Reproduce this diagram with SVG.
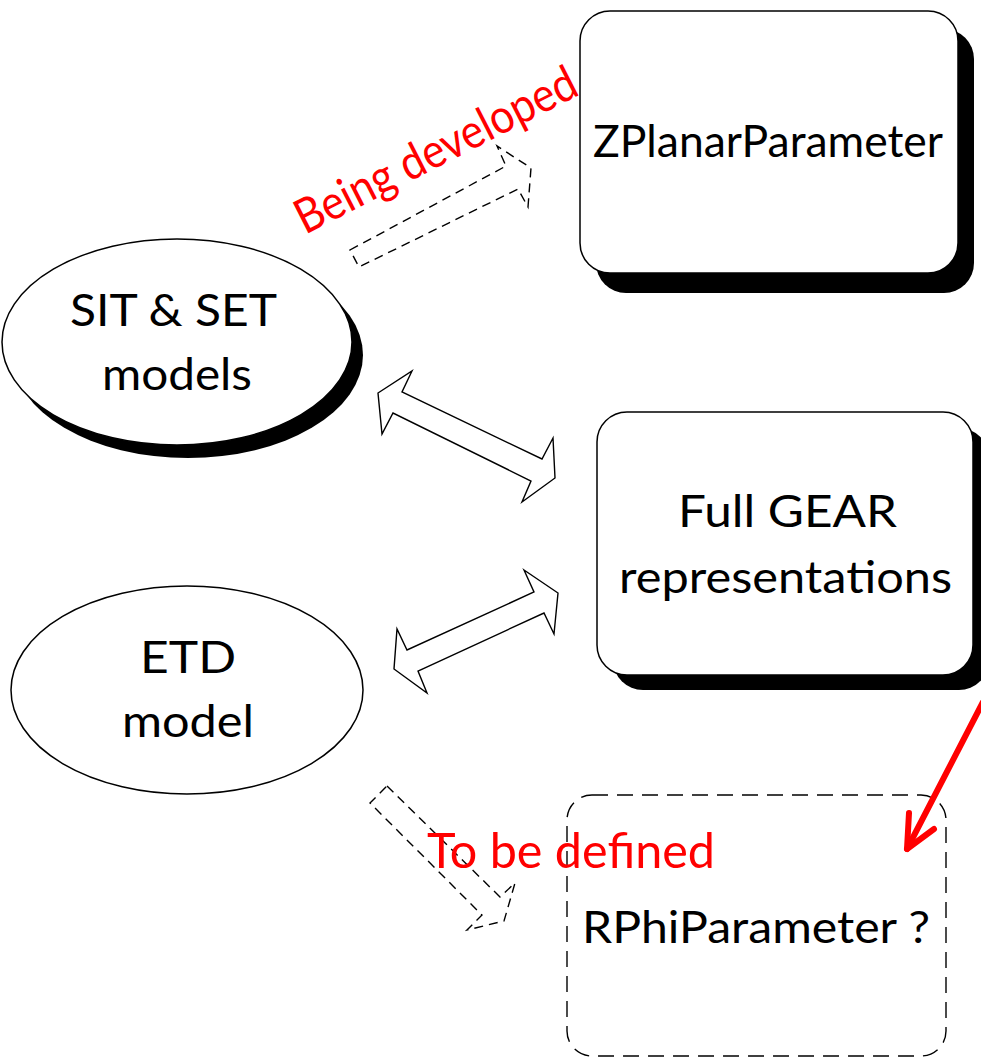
<svg xmlns="http://www.w3.org/2000/svg" width="981" height="1058" viewBox="0 0 981 1058">
<style>
.lbl{font-family:"Lato","Open Sans","Liberation Sans",sans-serif;font-size:45px;fill:#000;text-anchor:middle}
.red{font-family:"Lato","Open Sans","Liberation Sans",sans-serif;font-size:48px;fill:#ff0000}
.node{fill:#fff;stroke:#000;stroke-width:1.5}
.shadow{fill:#000;stroke:none}
.blk{fill:#fff;stroke:#000;stroke-width:1.4;stroke-linejoin:miter}
.dash{fill:none;stroke:#000;stroke-width:1.4;stroke-dasharray:9 6}
</style>
<rect width="981" height="1058" fill="#fff"/>
<g id="zplanar">
<rect class="shadow" x="596" y="29" width="378" height="264" rx="30"/>
<rect class="node" x="580" y="11" width="378" height="262" rx="30"/>
<text class="lbl" x="768" y="157" textLength="350" lengthAdjust="spacingAndGlyphs">ZPlanarParameter</text>
</g>
<g id="fullgear">
<rect class="shadow" x="613" y="428" width="376" height="262" rx="30"/>
<rect class="node" x="597" y="412" width="376" height="263" rx="30"/>
<text class="lbl" x="787.5" y="527" textLength="219" lengthAdjust="spacingAndGlyphs">Full GEAR</text>
<text class="lbl" x="785.5" y="593" textLength="333" lengthAdjust="spacingAndGlyphs">representations</text>
</g>
<g id="sitset">
<ellipse class="shadow" cx="188" cy="355" rx="175" ry="103"/>
<ellipse class="node" cx="177" cy="342" rx="175" ry="103"/>
<text class="lbl" x="173.5" y="326" textLength="207" lengthAdjust="spacingAndGlyphs">SIT &amp; SET</text>
<text class="lbl" x="177" y="390" textLength="150" lengthAdjust="spacingAndGlyphs">models</text>
</g>
<g id="etd">
<ellipse class="node" cx="187" cy="690" rx="176" ry="104"/>
<text class="lbl" x="188" y="673" textLength="96" lengthAdjust="spacingAndGlyphs">ETD</text>
<text class="lbl" x="188" y="737" textLength="132" lengthAdjust="spacingAndGlyphs">model</text>
</g>
<g id="rphi">
<rect x="567" y="795" width="379" height="261" rx="25" fill="none" stroke="#000" stroke-width="1.4" stroke-dasharray="16 9"/>
<text class="lbl" x="756" y="943" textLength="348" lengthAdjust="spacingAndGlyphs">RPhiParameter ?</text>
</g>
<g id="connectors">
<polygon class="dash" points="350,250 506,166 497,146 531,168 528,207 518,189 359,267"/>
<polygon class="blk" points="378,393 412,371 402,392 542,459 553,438 555,478 522,502 531,481 393,413 382,434"/>
<polygon class="blk" points="524,570 558,593 554,634 544,613 418,671 427,693 394,669 397,629 407,650 534,592"/>
<polygon class="dash" points="387,786 500,897 515,883 504,921 467,930 482,915 370,803"/>
<g fill="none" stroke="#ff0000" stroke-width="6" stroke-linecap="round" stroke-linejoin="round">
<line x1="983" y1="702" x2="907" y2="849"/>
<polyline points="909,813 907,849 934,829"/>
</g>
</g>
<g id="labels">
<text class="red" x="305" y="235" transform="rotate(-27 305 235)" textLength="310" lengthAdjust="spacingAndGlyphs">Being developed</text>
<text class="red" x="427" y="868" textLength="288" lengthAdjust="spacingAndGlyphs">To be defined</text>
</g>
</svg>
